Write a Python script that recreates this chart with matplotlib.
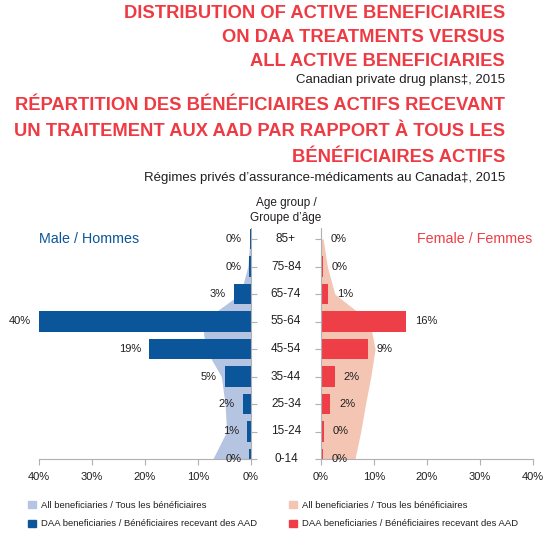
import matplotlib
matplotlib.use("Agg")
import matplotlib.pyplot as plt
from matplotlib.patches import Patch

plt.rcParams['font.family'] = ['Liberation Sans Narrow', 'Liberation Sans', 'DejaVu Sans']

age_groups = ['0-14', '15-24', '25-34', '35-44', '45-54', '55-64', '65-74', '75-84', '85+']
male_all = [7.2, 4.6, 4.9, 5.6, 8.6, 9.2, 2.0, 0.6, 0.2]
male_daa = [0.3, 0.7, 1.6, 5.0, 19.2, 40.0, 3.2, 0.3, 0.2]
male_labels = ['0%', '1%', '2%', '5%', '19%', '40%', '3%', '0%', '0%']
female_all = [6.4, 7.5, 8.4, 9.4, 10.2, 9.2, 2.6, 1.2, 0.4]
female_daa = [0.3, 0.5, 1.7, 2.6, 8.8, 16.0, 1.4, 0.3, 0.2]
female_labels = ['0%', '0%', '2%', '2%', '9%', '16%', '1%', '0%', '0%']
x_ticks = [0, 10, 20, 30, 40]

C_DBLUE = '#0b559a'
C_LBLUE = '#b5c4e1'
C_RED = '#ee3e48'
C_PINK = '#f3c5b2'
C_TITLE = '#ee3a43'
C_TEXT = '#231f20'
C_AXIS = '#b0b0b0'

fig = plt.figure(figsize=(5.5, 5.38), dpi=100)
W, H = 550.0, 538.0

ax_bottom = (H - 459) / H
ax_height = (459 - 228) / H
axL = fig.add_axes([39 / W, ax_bottom, 212 / W, ax_height])
axR = fig.add_axes([321 / W, ax_bottom, 212 / W, ax_height])

ypos = list(range(len(age_groups)))
bh = 0.73

# Male
axL.fill_betweenx(ypos, 0, male_all, color=C_LBLUE, lw=0, zorder=1)
axL.barh(ypos, male_daa, height=bh, color=C_DBLUE, zorder=2)
for y, v, lab in zip(ypos, male_daa, male_labels):
    axL.annotate(lab, (v, y), xytext=(-8, 0), textcoords='offset pixels',
                 ha='right', va='center', fontsize=8, color=C_TEXT)
axL.set_xlim(40, 0)

# Female
axR.fill_betweenx(ypos, 0, female_all, color=C_PINK, lw=0, zorder=1)
axR.barh(ypos, female_daa, height=bh, color=C_RED, zorder=2)
for y, v, lab in zip(ypos, female_daa, female_labels):
    axR.annotate(lab, (v, y), xytext=(9, 0), textcoords='offset pixels',
                 ha='left', va='center', fontsize=8, color=C_TEXT)
axR.set_xlim(0, 40)

for ax, side in ((axL, 'right'), (axR, 'left')):
    ax.set_ylim(0, 8.4)
    ax.set_xticks(x_ticks)
    ax.set_xticklabels([f'{t}%' for t in x_ticks])
    for s in ax.spines:
        ax.spines[s].set_visible(False)
    ax.spines['bottom'].set_visible(True)
    ax.spines[side].set_visible(True)
    ax.spines['bottom'].set_color(C_AXIS)
    ax.spines[side].set_color(C_AXIS)
    ax.spines['bottom'].set_linewidth(0.8)
    ax.spines[side].set_linewidth(0.8)
    ax.set_yticks(ypos)
    ax.set_yticklabels([])
    ax.tick_params(axis='x', colors=C_AXIS, labelcolor=C_TEXT, labelsize=8, length=4, width=0.8, pad=5.5)
    ax.tick_params(axis='y', colors=C_AXIS, length=4, width=0.8,
                   left=(side == 'left'), right=(side == 'right'))
    ax.set_facecolor('none')

# age group labels in the middle
for y, g in zip(ypos, age_groups):
    yfig = ax_bottom + ax_height * (y / 8.4)
    fig.text(286 / W, yfig, g, ha='center', va='center', fontsize=8.5, color=C_TEXT)
fig.text(286 / W, 1 - 203 / H, 'Age group /', ha='center', va='center', fontsize=8.5, color=C_TEXT)
fig.text(286 / W, 1 - 218 / H, 'Groupe d\u2019\u00e2ge', ha='center', va='center', fontsize=8.5, color=C_TEXT)

fig.text(39 / W, 1 - 239 / H, 'Male / Hommes', ha='left', va='center', fontsize=10.3, color=C_DBLUE)
fig.text(532 / W, 1 - 239 / H, 'Female / Femmes', ha='right', va='center', fontsize=10.3, color=C_RED)

# Titles
xr = 505 / W
tfont = dict(ha='right', va='center', fontsize=13.2, fontweight='bold', color=C_TITLE)
sfont = dict(ha='right', va='center', fontsize=9.5, color=C_TEXT)
fig.text(xr, 1 - 14 / H, 'DISTRIBUTION OF ACTIVE BENEFICIARIES', **tfont)
fig.text(xr, 1 - 38 / H, 'ON DAA TREATMENTS VERSUS', **tfont)
fig.text(xr, 1 - 62 / H, 'ALL ACTIVE BENEFICIARIES', **tfont)
fig.text(xr, 1 - 80 / H, 'Canadian private drug plans\u2021, 2015', **sfont)
fig.text(xr, 1 - 106 / H, 'R\u00c9PARTITION DES B\u00c9N\u00c9FICIAIRES ACTIFS RECEVANT', **tfont)
fig.text(xr, 1 - 132 / H, 'UN TRAITEMENT AUX AAD PAR RAPPORT \u00c0 TOUS LES', **tfont)
fig.text(xr, 1 - 157 / H, 'B\u00c9N\u00c9FICIAIRES ACTIFS', **tfont)
fig.text(xr, 1 - 178 / H, 'R\u00e9gimes priv\u00e9s d\u2019assurance-m\u00e9dicaments au Canada\u2021, 2015', **sfont)

# Legends
leg_kw = dict(loc='upper left', frameon=False, fontsize=6.8, handlelength=0.8, handleheight=0.8,
              handletextpad=0.6, labelspacing=1.0, borderaxespad=0, borderpad=0)
fig.legend(handles=[Patch(color=C_LBLUE, label='All beneficiaries / Tous les b\u00e9n\u00e9ficiaires'),
                    Patch(color=C_DBLUE, label='DAA beneficiaries / B\u00e9n\u00e9ficiaires recevant des AAD')],
           bbox_to_anchor=(28 / W, 1 - 501 / H), **leg_kw)
fig.legend(handles=[Patch(color=C_PINK, label='All beneficiaries / Tous les b\u00e9n\u00e9ficiaires'),
                    Patch(color=C_RED, label='DAA beneficiaries / B\u00e9n\u00e9ficiaires recevant des AAD')],
           bbox_to_anchor=(289 / W, 1 - 501 / H), **leg_kw)
for leg in fig.legends:
    for t in leg.get_texts():
        t.set_color(C_TEXT)

fig.savefig('out.png', dpi=100)
